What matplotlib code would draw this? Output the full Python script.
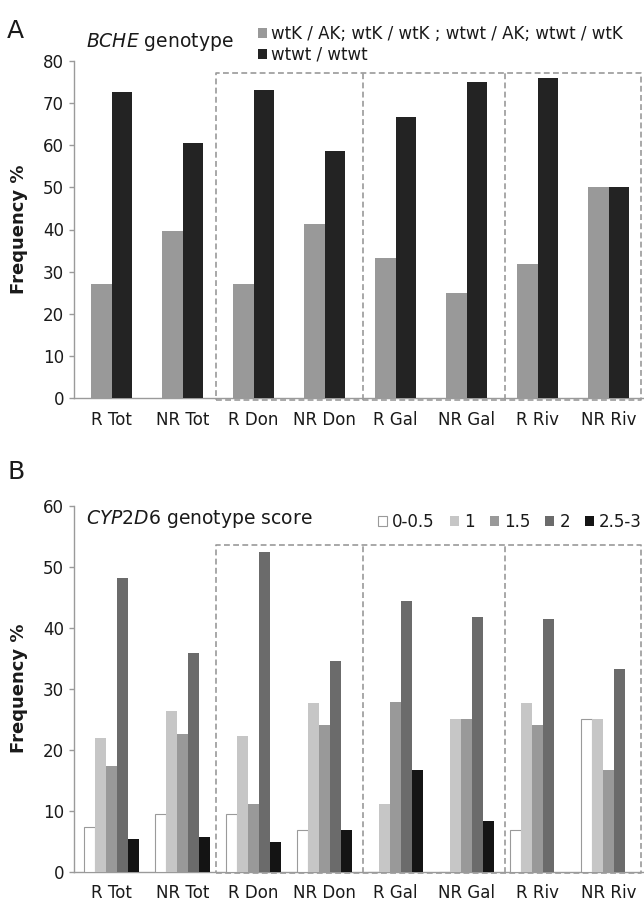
import matplotlib
matplotlib.use('Agg')
import matplotlib.pyplot as plt
import numpy as np

# ---------------- data ----------------
categories = ['R Tot', 'NR Tot', 'R Don', 'NR Don', 'R Gal', 'NR Gal', 'R Riv', 'NR Riv']

bche_labels = ['wtK / AK; wtK / wtK ; wtwt / AK; wtwt / wtK', 'wtwt / wtwt']
bche_carrier = [27.2, 39.6, 27.0, 41.3, 33.3, 25.0, 31.8, 50.0]
bche_wtwt = [72.6, 60.4, 73.0, 58.7, 66.7, 75.0, 75.8, 50.0]

cyp_labels = ['0-0.5', '1', '1.5', '2', '2.5-3']
cyp_0_05 = [7.4, 9.4, 9.5, 6.9, 0.0, 0.0, 6.9, 25.0]
cyp_1 = [21.9, 26.4, 22.2, 27.6, 11.1, 25.0, 27.6, 25.0]
cyp_15 = [17.3, 22.6, 11.1, 24.1, 27.8, 25.0, 24.1, 16.7]
cyp_2 = [48.2, 35.8, 52.4, 34.5, 44.4, 41.7, 41.4, 33.3]
cyp_25_3 = [5.4, 5.7, 4.8, 6.9, 16.7, 8.3, 0.0, 0.0]

# ---------------- style ----------------
plt.rcParams['font.family'] = ['DejaVu Sans']
TXT = '#1a1a1a'
AXC = '#9a9a9a'
W, H = 644, 906

fig = plt.figure(figsize=(W / 100, H / 100), dpi=100)

def fx(px):
    return px / W

def fy(py):
    return 1 - py / H

x = np.arange(len(categories))
XL = (-0.527, 7.5)

def style_axes(ax, ymax):
    ax.set_xlim(*XL)
    ax.set_ylim(0, ymax)
    ax.set_yticks(np.arange(0, ymax + 1, 10))
    ax.set_xticks(x)
    ax.set_xticklabels(categories)
    for s in ['top', 'right']:
        ax.spines[s].set_visible(False)
    for s in ['left', 'bottom']:
        ax.spines[s].set_color(AXC)
        ax.spines[s].set_linewidth(1.0)
    ax.tick_params(axis='y', length=3.5, width=1.0, color=AXC, pad=4,
                   labelsize=12, labelcolor=TXT)
    ax.tick_params(axis='x', length=0, pad=9, labelsize=12, labelcolor=TXT)
    ax.set_ylabel('Frequency %', fontsize=13, fontweight='bold', color=TXT)
    ax.yaxis.set_label_coords(-0.081, 0.5)

def dashed_boxes(ax, y0, y1):
    kw = dict(color=AXC, lw=1.2, ls=(0, (3.5, 2)), clip_on=False, zorder=5)
    left, right = 1.465, 7.46
    ax.plot([left, right, right, left, left], [y0, y0, y1, y1, y0], **kw)
    for xv in (3.54, 5.54):
        ax.plot([xv, xv], [y0, y1], **kw)

# ---------------- panel A ----------------
axA = fig.add_axes([fx(74.3), fy(398.3), 1 - fx(74.3), fy(60.7) - fy(398.3)])
bw = 0.29
axA.bar(x - bw / 2, bche_carrier, bw, color='#999999', edgecolor='none',
        label=bche_labels[0], zorder=3)
axA.bar(x + bw / 2, bche_wtwt, bw, color='#232323', edgecolor='none',
        label=bche_labels[1], zorder=3)
style_axes(axA, 80)
dashed_boxes(axA, -0.4, 77.0)

legA = axA.legend(loc='upper left', bbox_to_anchor=(fx(258), fy(25)),
                  bbox_transform=fig.transFigure, frameon=False, fontsize=12,
                  handlelength=0.55, handleheight=0.55, handletextpad=0.25,
                  borderpad=0, borderaxespad=0, labelspacing=0.15)
for t in legA.get_texts():
    t.set_color(TXT)

fig.text(fx(86), fy(42), r'$\it{BCHE}$' + ' genotype', fontsize=13.5,
         color=TXT, va='center', ha='left')
fig.text(fx(7), fy(31), 'A', fontsize=18, color=TXT, va='center', ha='left')

# ---------------- panel B ----------------
axB = fig.add_axes([fx(74.3), fy(871.7), 1 - fx(74.3), fy(505.7) - fy(871.7)])
bw2 = 0.155
series = [cyp_0_05, cyp_1, cyp_15, cyp_2, cyp_25_3]
colors = ['white', '#c6c6c6', '#999999', '#6b6b6b', '#141414']
edges = ['#9a9a9a', 'none', 'none', 'none', 'none']
for i, (vals, c, e, lab) in enumerate(zip(series, colors, edges, cyp_labels)):
    axB.bar(x + (i - 2) * bw2, vals, bw2, color=c, edgecolor=e,
            linewidth=0.8, label=lab, zorder=3)
style_axes(axB, 60)
dashed_boxes(axB, -0.25, 53.5)

legB = axB.legend(loc='upper left', bbox_to_anchor=(fx(378), fy(513)),
                  bbox_transform=fig.transFigure, frameon=False, fontsize=12,
                  ncol=5, handlelength=0.55, handleheight=0.55,
                  handletextpad=0.3, columnspacing=0.9,
                  borderpad=0, borderaxespad=0)
for t in legB.get_texts():
    t.set_color(TXT)

fig.text(fx(86), fy(519), r'$\it{CYP2D6}$' + ' genotype score', fontsize=13.5,
         color=TXT, va='center', ha='left')
fig.text(fx(7), fy(472), 'B', fontsize=18, color=TXT, va='center', ha='left')

fig.savefig('out.png', dpi=100)
